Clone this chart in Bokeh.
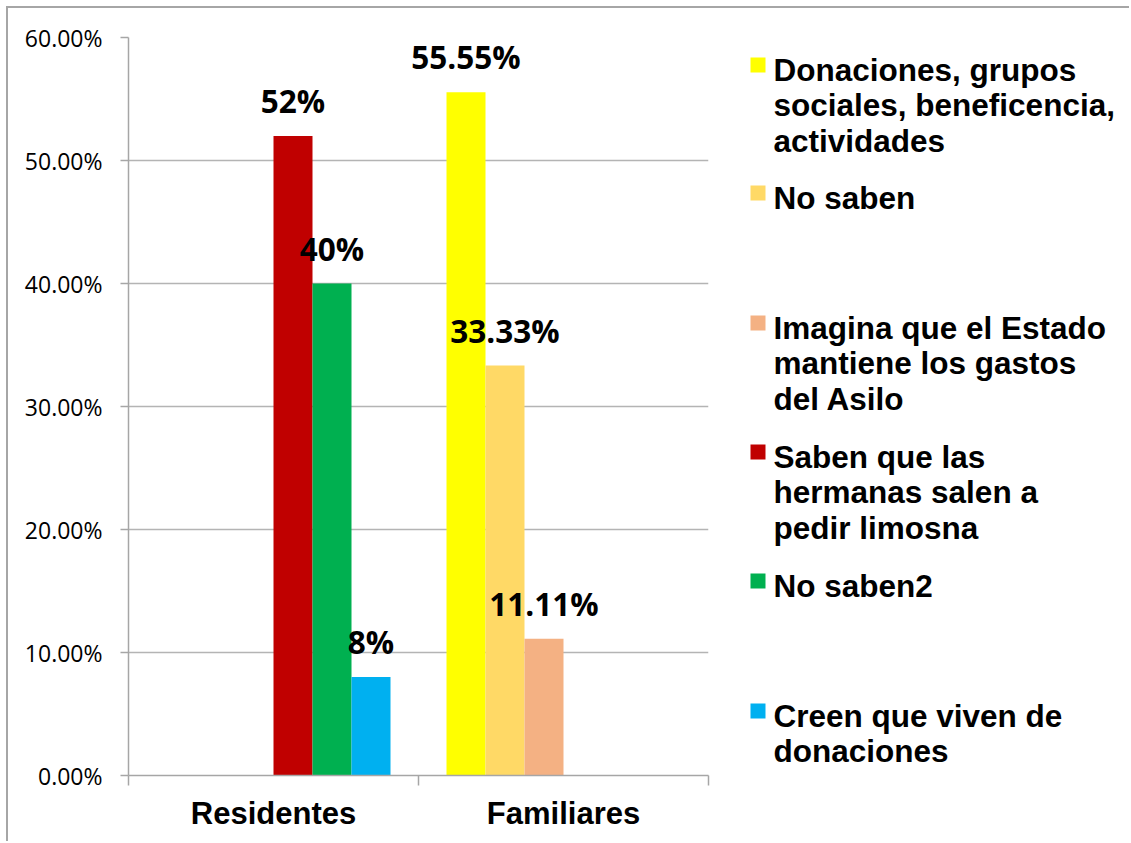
from bokeh.plotting import figure
from bokeh.layouts import row
from bokeh.models import (Range1d, FixedTicker, NumeralTickFormatter,
                          ColumnDataSource, LabelSet)
from bokeh.core.properties import value
from bokeh.embed import file_html
from bokeh.resources import INLINE

# ---------------- data ----------------
categories = ["Residentes", "Familiares"]
series_names = [
    "Donaciones, grupos sociales, beneficencia, actividades",
    "No saben",
    "Imagina que el Estado mantiene los gastos del Asilo",
    "Saben que las hermanas salen a pedir limosna",
    "No saben2",
    "Creen que viven de donaciones",
]
series_category = ["Familiares", "Familiares", "Familiares", "Residentes", "Residentes", "Residentes"]
series_values = [0.5555, 0.3333, 0.1111, 0.52, 0.40, 0.08]
value_labels = ["55.55%", "33.33%", "11.11%", "52%", "40%", "8%"]
series_colors = ["#FFFF00", "#FFD966", "#F4B183", "#C00000", "#00B050", "#00B0F0"]
y_ticks = [0.0, 0.1, 0.2, 0.3, 0.4, 0.5, 0.6]
legend_lines = [
    ["Donaciones, grupos", "sociales, beneficencia,", "actividades"],
    ["No saben"],
    ["Imagina que el Estado", "mantiene los gastos", "del Asilo"],
    ["Saben que las", "hermanas salen a", "pedir limosna"],
    ["No saben2"],
    ["Creen que viven de", "donaciones"],
]

# ---------------- layout constants ----------------
BAR_W = 39 / 290.0
n_series = len(series_names)
GRAY = "#a6a6a6"
H = 833
W1 = 720
W2 = 1121 - W1
TOP_B = 29
BOT_B = H - 29 - 738
FRAME_TOP_PAGE = 8 + TOP_B
FRAME_BOT_PAGE = 8 + TOP_B + 738

xs = [categories.index(c) + 0.5 + (i - (n_series - 1) / 2) * BAR_W
      for i, c in enumerate(series_category)]
src = ColumnDataSource(dict(x=xs, top=series_values, color=series_colors,
                            label=value_labels, name=series_names))

p = figure(width=W1, height=H,
           x_range=Range1d(0, 2), y_range=Range1d(0, 0.6),
           output_backend="svg", toolbar_location=None,
           min_border_left=120, min_border_right=W1 - 120 - 580,
           min_border_top=TOP_B, min_border_bottom=BOT_B)
p.outline_line_color = None
p.background_fill_color = "white"
p.border_fill_color = "white"

p.vbar(x="x", top="top", width=BAR_W, fill_color="color", line_color=None, source=src)

labels = LabelSet(x="x", y="top", text="label", source=src,
                  text_align="center", text_baseline="alphabetic", y_offset=23,
                  text_font=value("Open Sans"), text_font_style="bold",
                  text_font_size=value("31.5px"), text_color="black")
p.add_layout(labels)

# axes
xa = p.xaxis[0]
xa.ticker = FixedTicker(ticks=[0.5, 1.5], minor_ticks=[0, 1, 2])
xa.major_label_overrides = {0.5: "Residentes", 1.5: "Familiares"}
xa.major_tick_line_color = None
xa.major_tick_out = 0
xa.major_tick_in = 0
xa.minor_tick_out = 10
xa.minor_tick_in = 0
xa.minor_tick_line_color = GRAY
xa.minor_tick_line_width = 1.5
xa.axis_line_color = GRAY
xa.axis_line_width = 1.5
xa.major_label_standoff = 10
xa.major_label_text_font = "Liberation Sans"
xa.major_label_text_font_style = "bold"
xa.major_label_text_font_size = "31px"
xa.major_label_text_color = "black"

ya = p.yaxis[0]
ya.ticker = FixedTicker(ticks=y_ticks)
ya.formatter = NumeralTickFormatter(format="0.00%")
ya.major_tick_out = 8
ya.major_tick_in = 0
ya.major_tick_line_color = GRAY
ya.major_tick_line_width = 1.5
ya.minor_tick_line_color = None
ya.axis_line_color = GRAY
ya.axis_line_width = 1.5
ya.major_label_standoff = 18
ya.major_label_text_font = "Open Sans"
ya.major_label_text_font_size = "23px"
ya.major_label_text_color = "black"

p.xgrid.visible = False
p.ygrid.grid_line_color = "#b4b4b4"
p.ygrid.grid_line_width = 1.5

# ---------------- legend panel (page-pixel coordinates) ----------------
X0 = 8 + W1
q = figure(width=W2, height=H, x_range=Range1d(X0, X0 + W2),
           y_range=Range1d(FRAME_BOT_PAGE, FRAME_TOP_PAGE),
           output_backend="svg", toolbar_location=None,
           x_axis_location=None, y_axis_location=None,
           min_border_left=0, min_border_right=0,
           min_border_top=TOP_B, min_border_bottom=BOT_B)
q.outline_line_color = None
q.xgrid.visible = False
q.ygrid.visible = False
q.background_fill_color = "white"
q.border_fill_color = "white"

entry_baselines = [69, 197, 327, 456, 585, 715]
LINE_H = 35.5
sq = dict(left=[], right=[], top=[], bottom=[], color=[])
tx = dict(x=[], y=[], text=[])
for i, lines in enumerate(legend_lines):
    b = entry_baselines[i]
    sq["left"].append(750); sq["right"].append(765)
    sq["top"].append(b - 12); sq["bottom"].append(b + 3)
    sq["color"].append(series_colors[i])
    for j, t in enumerate(lines):
        tx["x"].append(773); tx["y"].append(b + j * LINE_H); tx["text"].append(t)

q.quad(left="left", right="right", top="top", bottom="bottom", fill_color="color",
       line_color=None, source=ColumnDataSource(sq))
q.text(x="x", y="y", text="text", source=ColumnDataSource(tx),
       text_baseline="alphabetic", text_align="left",
       text_font=value("Liberation Sans"), text_font_style="bold",
       text_font_size=value("31.5px"), text_color="black")

layout = row(p, q, spacing=0)
layout.styles = {"margin-left": "6px", "margin-top": "6px",
                 "border-left": "2px solid #a6a6a6", "border-top": "2px solid #a6a6a6"}

open("out.html", "w").write(file_html(layout, INLINE))
